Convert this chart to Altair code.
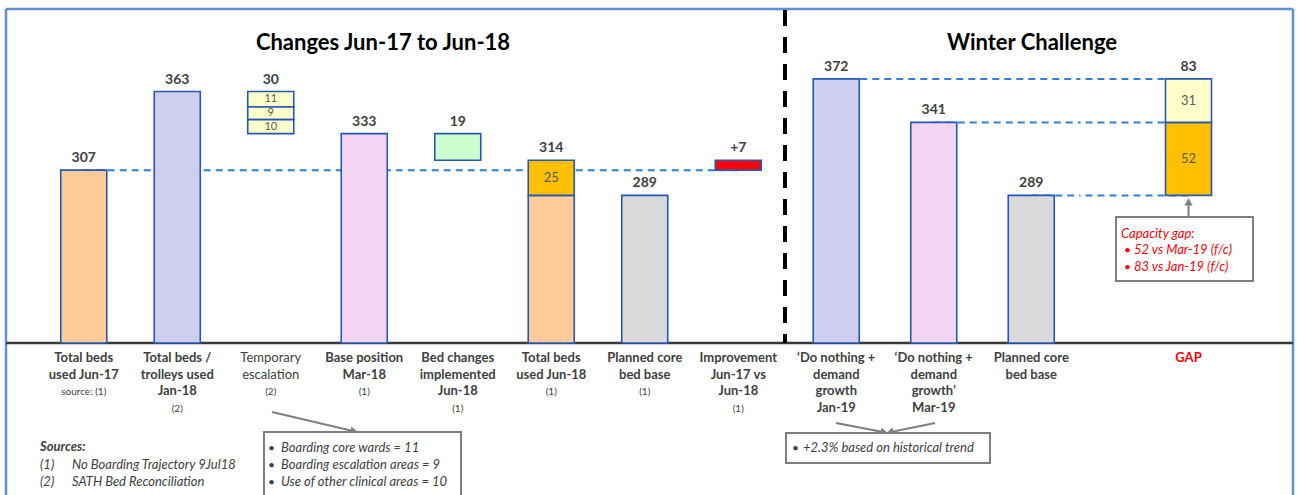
import altair as alt
import pandas as pd

# ---------------- values (beds) ----------------
jun17_used = 307
jan18_used = 363
escalation_parts = [11, 9, 10]          # core wards, escalation areas, other clinical areas
base_mar18 = 333
bed_changes_jun18 = 19
jun18_used = 314
planned_core = 289
improvement = 7

jan19_forecast = 372
mar19_forecast = 341
winter_planned_core = 289

left_categories = [
    "Total beds used Jun-17",
    "Total beds / trolleys used Jan-18",
    "Temporary escalation",
    "Base position Mar-18",
    "Bed changes implemented Jun-18",
    "Total beds used Jun-18",
    "Planned core bed base",
    "Improvement Jun-17 vs Jun-18",
]
left_label_lines = [
    ["Total beds", "used Jun-17"],
    ["Total beds /", "trolleys used", "Jan-18"],
    ["Temporary", "escalation"],
    ["Base position", "Mar-18"],
    ["Bed changes", "implemented", "Jun-18"],
    ["Total beds", "used Jun-18"],
    ["Planned core", "bed base"],
    ["Improvement", "Jun-17 vs", "Jun-18"],
]
left_label_notes = ["source: (1)", "(2)", "(2)", "(1)", "(1)", "(1)", "(1)", "(1)"]
left_label_bold = [True, True, False, True, True, True, True, True]

winter_categories = ["Do nothing Jan-19", "Do nothing Mar-19", "Winter planned core"]
winter_label_lines = [
    ["\u2018Do nothing +", "demand", "growth", "Jan-19"],
    ["\u2018Do nothing +", "demand", "growth\u2019", "Mar-19"],
    ["Planned core", "bed base"],
]
gap_category = "GAP"

escalation_notes = [
    "Boarding core wards = 11",
    "Boarding escalation areas = 9",
    "Use of other clinical areas = 10",
]
source_ids = ["(1)", "(2)"]
source_names = ["No Boarding Trajectory 9Jul18", "SATH Bed Reconciliation"]
trend_note = "+2.3% based on historical trend"
gap_notes = ["52 vs Mar-19 (f/c)", "83 vs Jan-19 (f/c)"]

# ---------------- styling ----------------
FONT = "Lato"
TEXT = "#404040"
PEACH = "#FFCC99"
LAVENDER = "#CECEEE"
PINK = "#F4D6F4"
LIGHT_YELLOW = "#FFFFCC"
GREEN = "#CCFFCC"
GOLD = "#FFC000"
GREY = "#D9D9D9"
RED = "#FF0000"
BAR_EDGE = "#2458B8"
DASH_BLUE = "#2E80D2"
BORDER = "#6090D6"
AXIS = "#3A3A3A"
NOTE_GREY = "#7F7F7F"

W, H = 1297, 495
X_DIVIDER = 785                      # split between the two sections
X_GAP_START = 1080                   # start of the gap column
Y_MAX, Y_MIN = 428.2, 75.6           # value extent of the drawing area
AXIS_FLOOR = 183.9                   # value at which the category axis sits
BAR_W = 46
LABEL_TOP = 352                      # top of the category label block
LINE_H = 16.5

yscale = alt.Scale(domain=[Y_MIN, Y_MAX], nice=False, zero=False)
ONE = pd.DataFrame({"k": [0]})
FLOOR_DF = pd.DataFrame({"v": [AXIS_FLOOR]})


def seg(x1, y1, x2, y2, color=NOTE_GREY, width=2.0, dash=None):
    kw = dict(color=color, strokeWidth=width)
    if dash:
        kw["strokeDash"] = dash
    return alt.Chart(ONE).mark_rule(**kw).encode(
        x=alt.value(x1), y=alt.value(y1), x2=alt.value(x2), y2=alt.value(y2))


def head(x, y, angle, color=NOTE_GREY, size=70):
    return alt.Chart(ONE).mark_point(shape="triangle", filled=True, color=color,
                                     size=size, angle=angle, opacity=1).encode(
        x=alt.value(x), y=alt.value(y))


def note(txt, x, y, size=13, color=TEXT, weight="normal", style="normal",
         align="left", baseline="middle"):
    return alt.Chart(ONE).mark_text(text=txt, font=FONT, fontSize=size, color=color,
                                    fontWeight=weight, fontStyle=style, align=align,
                                    baseline=baseline).encode(
        x=alt.value(x), y=alt.value(y))


def box(x1, y1, x2, y2, stroke=NOTE_GREY):
    return alt.Chart(ONE).mark_rect(fill="white", stroke=stroke, strokeWidth=2).encode(
        x=alt.value(x1), x2=alt.value(x2), y=alt.value(y1), y2=alt.value(y2))


def segments_frame(rows):
    df = pd.DataFrame(rows, columns=["cat", "lo", "hi", "fill", "inner"])
    df["mid"] = (df["lo"] + df["hi"]) / 2
    # thin segments get a smaller inner label
    df["fs"] = [11 if (h - l) < 15 else 13 for l, h in zip(df["lo"], df["hi"])]
    return df


def band_x(cats, step, start):
    """Band scale whose bands (one step each) begin at pixel `start`."""
    return alt.X("cat:N", sort=cats, axis=None,
                 scale=alt.Scale(range=[start, start + step * len(cats)],
                                 paddingInner=0, paddingOuter=0))


def bar_layers(seg_df, top_df, xenc):
    bars = alt.Chart(seg_df).mark_bar(width=BAR_W, stroke=BAR_EDGE, strokeWidth=1.6).encode(
        x=xenc, y=alt.Y("hi:Q", scale=yscale, axis=None), y2="lo:Q",
        color=alt.Color("fill:N", scale=None))
    inner = alt.Chart(seg_df).transform_filter("datum.inner != ''").mark_text(
        font=FONT, color="#5A5A5A", baseline="middle").encode(
        x=xenc, y=alt.Y("mid:Q", scale=yscale, axis=None), text="inner:N",
        size=alt.Size("fs:Q", scale=None))
    tops = alt.Chart(top_df).mark_text(font=FONT, fontSize=14, fontWeight="bold",
                                       color=TEXT, baseline="alphabetic", dy=-8).encode(
        x=xenc, y=alt.Y("top:Q", scale=yscale, axis=None), text="text:N")
    return [bars, inner, tops]


def category_labels(label_df, xenc, color=TEXT):
    out = []
    for bold in (True, False):
        sub = label_df[label_df["bold"] == bold]
        if len(sub):
            out.append(alt.Chart(sub).mark_text(
                font=FONT, fontSize=13, fontWeight="bold" if bold else "normal",
                color=color, baseline="top", lineBreak="\n", lineHeight=LINE_H).encode(
                x=xenc, y=alt.value(LABEL_TOP), text="label:N"))
    # source references sit one line below each label block
    notes = label_df[label_df["note"] != ""]
    for n in sorted(notes["n_lines"].unique()):
        sub = notes[notes["n_lines"] == n]
        out.append(alt.Chart(sub).mark_text(
            font=FONT, fontSize=10, color=TEXT, baseline="top").encode(
            x=xenc, y=alt.value(LABEL_TOP + n * LINE_H + 2), text="note:N"))
    return out


# ---------------- frame, axis line, divider, titles ----------------
frame = [
    seg(6, 9, W - 4, 9, BORDER, 2.5),
    seg(6, 9, 6, H, BORDER, 2.5),
    seg(W - 4, 9, W - 4, H, BORDER, 2.5),
    alt.Chart(FLOOR_DF).mark_rule(color=AXIS, strokeWidth=2.5).encode(
        x=alt.value(6), x2=alt.value(W - 4), y=alt.Y("v:Q", scale=yscale, axis=None)),
    seg(X_DIVIDER, 10, X_DIVIDER, 343, "#000000", 4, [16, 11]),
    note("Changes Jun-17 to Jun-18", 383, 43, size=22, color="#000000", weight="bold",
         align="center"),
    note("Winter Challenge", 1032, 43, size=22, color="#000000", weight="bold",
         align="center"),
]

# ---------------- left section: changes Jun-17 to Jun-18 ----------------
c = left_categories
rows = [
    (c[0], AXIS_FLOOR, jun17_used, PEACH, ""),
    (c[1], AXIS_FLOOR, jan18_used, LAVENDER, ""),
]
level = jan18_used
for part in escalation_parts:
    rows.append((c[2], level - part, level, LIGHT_YELLOW, str(part)))
    level -= part
rows += [
    (c[3], AXIS_FLOOR, base_mar18, PINK, ""),
    (c[4], base_mar18 - bed_changes_jun18, base_mar18, GREEN, ""),
    (c[5], AXIS_FLOOR, planned_core, PEACH, ""),
    (c[5], planned_core, jun18_used, GOLD, str(jun18_used - planned_core)),
    (c[6], AXIS_FLOOR, planned_core, GREY, ""),
    (c[7], jun17_used, jun17_used + improvement, RED, ""),
]
left_seg = segments_frame(rows)
left_top = pd.DataFrame({
    "cat": c,
    "top": [jun17_used, jan18_used, jan18_used, base_mar18, base_mar18,
            jun18_used, planned_core, jun17_used + improvement],
    "text": [str(jun17_used), str(jan18_used), str(sum(escalation_parts)), str(base_mar18),
             str(bed_changes_jun18), str(jun18_used), str(planned_core), f"+{improvement}"],
})
left_labels = pd.DataFrame({
    "cat": c,
    "label": ["\n".join(l) for l in left_label_lines],
    "n_lines": [len(l) for l in left_label_lines],
    "note": left_label_notes,
    "bold": left_label_bold,
})
x_left = band_x(c, 93.5, 37)
baseline_307 = pd.DataFrame({"cat": [c[0], c[7]], "v": [jun17_used, jun17_used]})
dash_left = alt.Chart(baseline_307).mark_line(color=DASH_BLUE, strokeWidth=2,
                                              strokeDash=[7, 5]).encode(
    x=x_left, y=alt.Y("v:Q", scale=yscale, axis=None))
left_group = alt.layer(dash_left, *bar_layers(left_seg, left_top, x_left),
                       *category_labels(left_labels, x_left))

# ---------------- middle section: winter forecasts ----------------
wc = winter_categories
mid_seg = segments_frame([
    (wc[0], AXIS_FLOOR, jan19_forecast, LAVENDER, ""),
    (wc[1], AXIS_FLOOR, mar19_forecast, PINK, ""),
    (wc[2], AXIS_FLOOR, winter_planned_core, GREY, ""),
])
mid_top = pd.DataFrame({"cat": wc,
                        "top": [jan19_forecast, mar19_forecast, winter_planned_core],
                        "text": [str(jan19_forecast), str(mar19_forecast),
                                 str(winter_planned_core)]})
mid_labels = pd.DataFrame({"cat": wc, "label": ["\n".join(l) for l in winter_label_lines],
                           "n_lines": [len(l) for l in winter_label_lines],
                           "note": ["", "", ""], "bold": [True, True, True]})
x_mid = band_x(wc, 97.5, X_DIVIDER + 2.5)
# leader lines from each forecast bar towards the gap column
mid_dash = alt.Chart(mid_top).mark_rule(color=DASH_BLUE, strokeWidth=2,
                                        strokeDash=[7, 5]).encode(
    x=x_mid, x2=alt.value(X_GAP_START), y=alt.Y("top:Q", scale=yscale, axis=None))
mid_group = alt.layer(mid_dash, *bar_layers(mid_seg, mid_top, x_mid),
                      *category_labels(mid_labels, x_mid))

# ---------------- right section: capacity gap ----------------
gap_seg = segments_frame([
    (gap_category, winter_planned_core, mar19_forecast, GOLD,
     str(mar19_forecast - winter_planned_core)),
    (gap_category, mar19_forecast, jan19_forecast, LIGHT_YELLOW,
     str(jan19_forecast - mar19_forecast)),
])
gap_top = pd.DataFrame({"cat": [gap_category], "top": [jan19_forecast],
                        "text": [str(jan19_forecast - winter_planned_core)]})
x_gap = band_x([gap_category], 217, X_GAP_START)
gap_levels = pd.DataFrame({"cat": [gap_category] * 3,
                           "v": [jan19_forecast, mar19_forecast, winter_planned_core]})
gap_dash = alt.Chart(gap_levels).mark_rule(color=DASH_BLUE, strokeWidth=2,
                                           strokeDash=[7, 5]).encode(
    x=x_gap, x2=alt.value(X_GAP_START), y=alt.Y("v:Q", scale=yscale, axis=None))
gap_label = alt.Chart(pd.DataFrame({"cat": [gap_category]})).mark_text(
    font=FONT, fontSize=13, fontWeight="bold", color=RED, baseline="top").encode(
    x=x_gap, y=alt.value(LABEL_TOP), text="cat:N")
gap_group = alt.layer(gap_dash, *bar_layers(gap_seg, gap_top, x_gap), gap_label)

# ---------------- callouts ----------------
callouts = [note("Sources:", 40, 447, weight="bold", style="italic")]
for i, (sid, sname) in enumerate(zip(source_ids, source_names)):
    yy = 465 + i * 17
    callouts += [note(sid, 40, yy, style="italic"), note(sname, 72, yy, style="italic")]
callouts += [seg(272, 412, 353, 431), head(353, 431, 103), box(264, 432, 461, 500)]
for i, t in enumerate(escalation_notes):
    yy = 448 + i * 17
    callouts += [note("\u2022", 268, yy, size=12), note(t, 281, yy, style="italic")]
callouts += [
    seg(836, 423, 883, 432), head(883, 432, 101),
    seg(935, 423, 891, 432), head(891, 432, 258),
    box(786, 433, 990, 463),
    note("\u2022", 792, 448, size=12), note(trend_note, 803, 448, style="italic"),
    seg(1188.5, 217, 1188.5, 203), head(1188.5, 203, 0),
    box(1116, 217, 1253, 281),
    note("Capacity gap:", 1121, 234, color=RED, style="italic"),
]
for i, t in enumerate(gap_notes):
    yy = 250 + i * 16.5
    callouts += [note("\u2022", 1124, yy, size=12, color=RED),
                 note(t, 1134, yy, color=RED, style="italic")]

chart = alt.layer(
    alt.layer(*frame), left_group, mid_group, gap_group, alt.layer(*callouts)
).resolve_scale(x="independent").properties(
    width=W, height=H, padding=0, background="white",
    autosize=alt.AutoSizeParams(type="none"),
).configure_view(stroke=None)

chart.save("out.html", embed_options={"renderer": "svg", "actions": False})
